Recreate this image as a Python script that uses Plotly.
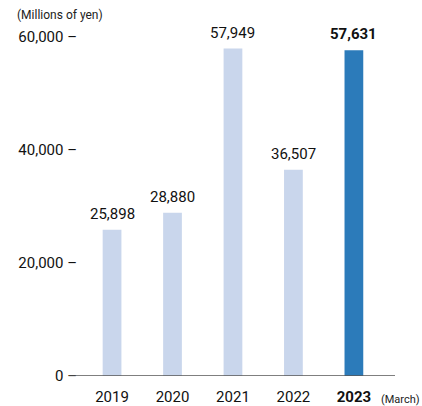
import plotly.graph_objects as go

years = ["2019", "2020", "2021", "2022", "2023"]
values = [25898, 28880, 57949, 36507, 57631]
value_labels = ["25,898", "28,880", "57,949", "36,507", "57,631"]
y_ticks = [0, 20000, 40000, 60000]
y_tick_labels = ["0 –", "20,000 –", "40,000 –", "60,000 –"]

FONT = "Roboto, Arial, sans-serif"
LIGHT = "#c9d6ec"
DARK = "#2c7bba"

colors = [LIGHT] * (len(years) - 1) + [DARK]

fig = go.Figure(
    go.Bar(
        x=list(range(len(years))),
        y=values,
        marker=dict(color=colors, line=dict(width=0)),
        width=0.31,
        hoverinfo="skip",
    )
)

# value labels above each bar; the latest year is set in bold
for i, (v, lab) in enumerate(zip(values, value_labels)):
    last = i == len(values) - 1
    fig.add_annotation(
        x=i, y=v, xref="x", yref="y",
        text=f"<b>{lab}</b>" if last else lab,
        showarrow=False, yanchor="bottom", yshift=5,
        font=dict(family=FONT, size=15, color="#111111"),
    )

tick_text = [f"<b>{y}</b>" if i == len(years) - 1 else y for i, y in enumerate(years)]

fig.update_layout(
    width=422, height=406,
    margin=dict(l=80, r=27, t=20, b=30),
    paper_bgcolor="white", plot_bgcolor="white",
    showlegend=False,
    font=dict(family=FONT, size=15, color="#222222"),
    xaxis=dict(
        range=[-0.53, 4.68],
        tickmode="array", tickvals=list(range(len(years))), ticktext=tick_text,
        showgrid=False, zeroline=False, showline=False, ticks="",
        ticklabelstandoff=10, automargin=False,
        tickfont=dict(family=FONT, size=15, color="#111111"),
        fixedrange=True,
    ),
    yaxis=dict(
        range=[0, 63000],
        tickmode="array", tickvals=y_ticks, ticktext=y_tick_labels,
        showgrid=False, zeroline=False, showline=False, ticks="",
        ticklabelstandoff=2, automargin=False,
        tickfont=dict(family=FONT, size=15, color="#111111"),
        fixedrange=True,
    ),
)

# baseline along zero
fig.add_shape(
    type="line", xref="paper", yref="y",
    x0=-0.035, x1=1.0, y0=0, y1=0,
    line=dict(color="#555555", width=1.5),
)

fig.add_annotation(
    xref="paper", yref="paper", x=-0.205, y=1.014,
    text="(Millions of yen)", showarrow=False,
    xanchor="left", yanchor="middle",
    font=dict(family=FONT, size=12, color="#222222"),
)
fig.add_annotation(
    xref="paper", yref="paper", x=0.948, y=-0.065,
    text="(March)", showarrow=False,
    xanchor="left", yanchor="middle",
    font=dict(family=FONT, size=11, color="#222222"),
)

fig.write_html("out.html")
